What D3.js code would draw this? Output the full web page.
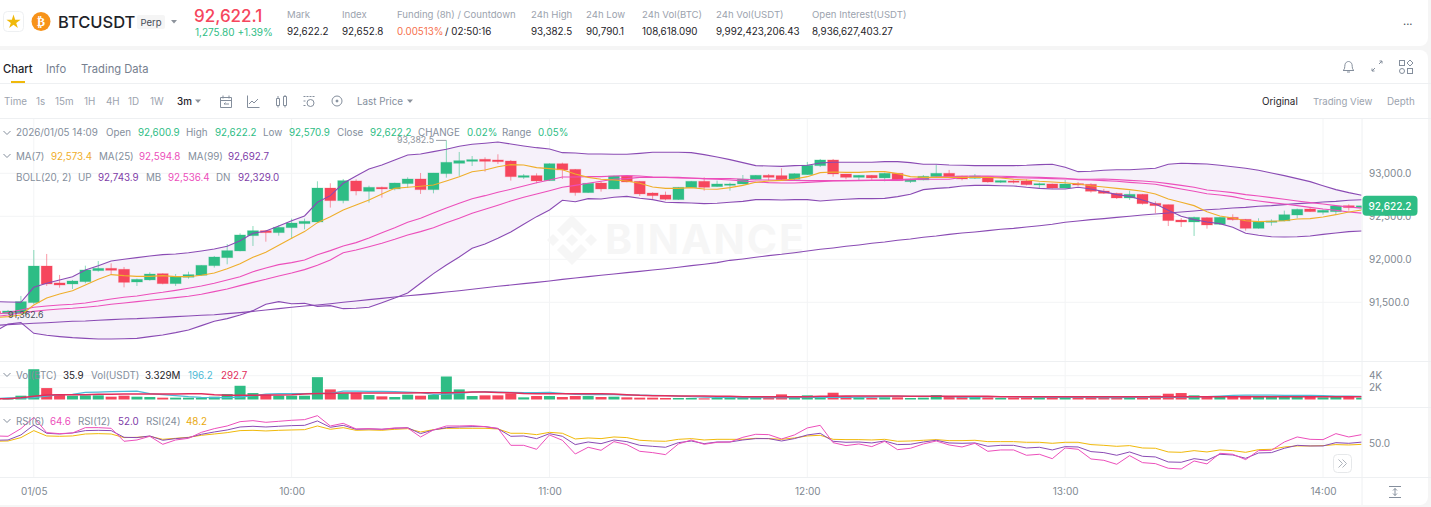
<!DOCTYPE html>
<html>
<head>
<meta charset="utf-8">
<script src="https://cdn.jsdelivr.net/npm/d3@7"></script>
<style>
  html, body { margin: 0; padding: 0; background: #f5f5f5; overflow: hidden; }
  svg { display: block; font-family: Inter, "Open Sans", sans-serif; }
</style>
</head>
<body>
<svg id="chart" width="1431" height="507"></svg>
<script>
// first entry is the 08:51 candle, it sits just off the left edge
const opens = [91395,91368,91370,91496,91922,91725,91713,91740,91868,91895,91884,91736,91760,91833,91717,91791,91814,91926,92019,92097,92275,92333,92310,92368,92415,92434,92829,92682,92911,92790,92837,92818,92880,92934,92810,92996,93116,93139,93163,93155,93143,92953,92973,92915,93112,93046,92775,92887,92818,92969,92907,92771,92748,92694,92833,92907,92845,92860,92876,92930,92977,92973,92930,92984,93089,93155,92992,92953,92977,92946,93000,92903,92922,92961,93000,92969,92942,92961,92895,92911,92911,92864,92876,92829,92880,92872,92794,92767,92713,92756,92651,92636,92457,92434,92484,92407,92488,92465,92360,92430,92446,92515,92585,92546,92554,92624,92600.9];
const highs = [91420,91411,91574,92108,92062,91818,91760,91926,91980,91953,91911,91775,91849,91837,91829,91856,91930,92039,92178,92302,92387,92341,92399,92473,92473,92907,92884,92934,92930,92856,92845,92891,92953,93004,93004,93382.5,93248,93201,93186,93221,93155,92992,93000,93116,93124,93050,92887,92903,92973,92973,92911,92779,92787,92841,92911,92953,92915,92891,92980,92980,92992,93058,93000,93132,93167,93167,92992,92980,92980,93008,93004,92938,92980,93101,93039,92973,92992,92969,92918,92922,92930,92891,92880,92922,92899,92884,92818,92775,92798,92760,92674,92636,92480,92496,92488,92492,92523,92469,92477,92465,92566,92589,92601,92581,92628,92639,92622.2];
const lows = [91368,91362.6,91365,91480,91690,91670,91655,91721,91856,91818,91674,91690,91752,91709,91690,91775,91810,91903,91942,92093,92155,92205,92275,92236,92349,92430,92601,92651,92744,92659,92717,92802,92829,92760,92767,92949,92969,93085,93019,93108,92915,92934,92884,92911,92934,92740,92771,92787,92814,92895,92736,92701,92686,92690,92829,92798,92843,92798,92872,92926,92915,92922,92922,92980,93073,92961,92930,92918,92922,92907,92911,92887,92918,92953,92942,92918,92934,92891,92887,92880,92860,92829,92822,92825,92853,92775,92760,92701,92690,92636,92535,92387,92376,92271,92356,92399,92449,92333,92356,92391,92442,92477,92550,92519,92519,92566,92570.9];
const closes = [91370,91399,91508,91922,91713,91701,91748,91876,91895,91872,91732,91767,91829,91717,91798,91822,91930,92027,92101,92283,92333,92310,92372,92422,92442,92829,92682,92915,92794,92837,92818,92887,92934,92810,93004,93128,93147,93159,93139,93135,92961,92973,92911,93112,93039,92775,92884,92818,92969,92899,92760,92740,92698,92837,92907,92837,92876,92876,92934,92977,92953,92926,92996,93093,93155,92992,92953,92977,92946,93000,92915,92930,92965,93000,92957,92934,92969,92899,92915,92895,92868,92880,92829,92876,92864,92791,92767,92713,92756,92647,92624,92450,92434,92488,92399,92488,92461,92360,92438,92446,92519,92581,92554,92570,92620,92601,92622.2];

const ma7 = [91322,91333,91353,91469,91550,91597,91635,91701,91767,91822,91810,91802,91802,91810,91798,91798,91814,91841,91891,91949,92023,92081,92163,92244,92322,92426,92496,92573,92632,92690,92760,92825,92837,92849,92864,92911,92961,93019,93039,93077,93101,93097,93066,93054,93042,92992,92953,92930,92922,92911,92884,92841,92825,92825,92833,92818,92814,92833,92860,92895,92911,92918,92934,92961,93008,93015,93011,93011,93019,93019,92996,92961,92953,92953,92953,92953,92953,92953,92946,92930,92922,92907,92899,92891,92876,92856,92841,92825,92810,92791,92760,92701,92663,92624,92554,92504,92480,92449,92438,92442,92449,92469,92473,92492,92519,92550,92573.4];
const ma25 = [91333,91353,91380,91395,91411,91422,91430,91442,91457,91477,91492,91508,91523,91539,91554,91570,91593,91624,91655,91694,91732,91767,91806,91841,91880,91930,91992,92077,92108,92147,92186,92232,92283,92322,92368,92426,92477,92535,92581,92628,92678,92721,92760,92798,92837,92860,92884,92907,92930,92938,92953,92953,92953,92946,92942,92938,92938,92938,92930,92922,92922,92918,92918,92915,92915,92915,92915,92915,92918,92918,92918,92926,92930,92930,92930,92953,92957,92961,92953,92949,92946,92942,92938,92934,92930,92930,92934,92926,92918,92911,92899,92880,92860,92837,92806,92791,92775,92752,92736,92717,92698,92678,92659,92643,92624,92608,92594.8];
const ma99 = [91232,91240,91248,91256,91263,91271,91279,91283,91291,91298,91306,91310,91318,91325,91333,91341,91349,91356,91368,91380,91395,91411,91426,91442,91457,91469,91484,91500,91515,91531,91546,91562,91577,91589,91604,91620,91635,91651,91670,91686,91701,91717,91732,91748,91767,91783,91798,91814,91829,91845,91860,91876,91891,91907,91926,91942,91961,91988,92004,92023,92043,92058,92077,92097,92116,92132,92151,92167,92186,92201,92221,92236,92256,92271,92290,92306,92318,92333,92349,92360,92376,92391,92407,92430,92446,92461,92473,92488,92500,92515,92527,92539,92550,92562,92577,92585,92597,92604,92616,92624,92636,92647,92655,92666,92674,92686,92692.7];
const bollUp = [91508,91504,91500,91674,91721,91760,91798,91876,91926,91980,92000,92019,92039,92054,92062,92077,92097,92120,92151,92217,92302,92329,92387,92449,92504,92663,92740,92884,92969,93050,93097,93155,93213,93225,93252,93279,93314,93337,93349,93364,93341,93318,93298,93283,93240,93236,93225,93225,93221,93221,93232,93244,93244,93244,93240,93217,93190,93159,93124,93089,93085,93081,93089,93093,93120,93128,93128,93128,93128,93136,93136,93124,93105,93105,93097,93093,93089,93089,93089,93089,93093,93101,93105,93070,93019,93023,93035,93042,93042,93050,93058,93105,93116,93112,93108,93093,93077,93058,93035,93004,92973,92938,92903,92856,92810,92775,92743.9];
const bollMid = [91360,91380,91411,91442,91457,91469,91477,91492,91515,91539,91558,91573,91597,91616,91639,91663,91690,91721,91760,91798,91856,91899,91938,91961,91992,92054,92101,92155,92194,92248,92310,92368,92430,92477,92539,92597,92651,92705,92740,92779,92814,92853,92891,92922,92957,92957,92961,92961,92969,92973,92969,92957,92953,92953,92946,92938,92930,92922,92911,92899,92891,92887,92887,92895,92903,92911,92915,92918,92918,92922,92926,92934,92942,92957,92961,92965,92969,92969,92965,92961,92957,92953,92949,92942,92926,92922,92915,92907,92895,92884,92872,92845,92818,92791,92763,92748,92729,92698,92678,92659,92643,92624,92604,92585,92570,92550,92536.4];
const bollDn = [91159,91248,91263,91139,91116,91101,91089,91081,91073,91073,91077,91081,91101,91120,91147,91178,91229,91279,91310,91353,91403,91477,91508,91484,91488,91453,91461,91426,91430,91442,91496,91550,91608,91721,91833,91934,92027,92128,92178,92244,92318,92407,92496,92573,92686,92670,92705,92701,92721,92732,92709,92694,92663,92659,92655,92647,92651,92663,92674,92694,92694,92690,92694,92694,92678,92690,92698,92705,92705,92709,92729,92756,92810,92825,92833,92853,92860,92860,92856,92853,92837,92825,92818,92818,92837,92818,92787,92752,92732,92690,92643,92570,92500,92461,92434,92415,92372,92302,92279,92263,92260,92263,92271,92290,92306,92322,92329];

const volumes = [150,139,639,5087,1918,862,639,695,695,473,639,473,417,306,306,306,306,473,917,2307,1084,806,639,639,639,3753,1696,1029,1140,751,528,417,806,639,751,3864,1696,584,695,695,1029,361,584,584,417,584,584,417,473,361,306,306,250,250,250,195,250,250,250,306,361,862,306,695,306,1140,584,361,306,361,361,250,306,751,528,417,584,361,250,306,306,306,306,306,306,584,417,361,361,473,639,973,1084,695,528,584,528,639,584,528,473,473,417,361,417,417,306];
const volMaFast = [139,250,250,306,584,806,862,1195,1251,1307,1362,1418,973,806,639,473,361,306,306,417,639,917,973,973,973,1029,1029,1418,1418,1362,1362,1307,1251,1140,862,917,1029,1251,1307,1251,1195,1140,1140,1195,1029,862,806,806,806,751,751,695,639,584,473,417,361,361,306,306,306,306,306,361,361,361,361,417,417,473,528,528,528,528,473,417,417,473,473,473,417,417,361,361,361,361,306,306,361,361,361,361,361,417,473,584,695,751,751,751,695,695,695,639,584,584,528,473,473,417,361];
const volMaSlow = [139,139,306,528,751,806,806,806,862,862,917,917,917,917,917,973,973,806,695,695,695,751,751,806,917,1029,1029,1084,1084,1084,1084,1084,1084,1140,1140,1140,1195,1251,1251,1195,1140,1029,973,973,973,973,973,973,917,806,695,639,639,584,584,584,528,528,473,473,473,473,473,473,528,528,584,584,584,584,584,528,528,528,528,528,528,528,473,473,473,473,473,473,473,473,473,473,473,473,473,473,473,473,473,473,473,473,473,473,473,473,473,473,473,473,473];

const rsi6 = [62.4,61.8,74.7,93.8,68,66.3,67.4,76.4,76.4,75.3,53.4,55.6,61.8,48.3,55.6,58.4,68.5,74.7,79.2,86.5,88.2,85.4,87.1,88.8,89.9,96.6,79.2,83.7,74.2,74.7,73.6,75.9,75.9,60.7,72.5,79.2,79.2,79.8,78.1,75.3,46.6,46.6,39.9,64.1,55.1,32,43.3,38.2,52.8,47.8,36.5,34.3,30.9,48.9,55.6,48.3,51.7,52.2,60.1,65.2,64.6,57.3,64.1,75.9,80.3,51.1,46.1,48.9,44.4,53.4,39.3,41.6,48.9,53.9,47.2,43.8,50,36.5,38.8,38.8,29.8,31.5,24.1,42.1,39.9,23.6,21.3,14.6,29.2,17.4,15.7,7.9,6.7,20.2,15.2,33.1,31.5,22.5,37.6,38.2,52.2,60.7,56.7,56.2,66.3,60.7,64.6];
const rsi12 = [55.1,55.6,64.1,80.9,66.9,65.7,67.4,71.4,71.9,71.4,60.1,59.6,62.4,55.1,57.9,59.6,65.2,69.1,72.5,77.5,78.7,77.5,78.7,79.8,80.3,87.7,77,80.3,73.6,74.2,73.6,75.3,76.4,66.3,72.5,76.4,77.5,78.1,78.1,74.7,61.8,62.4,57.9,66.3,61.8,47.8,52.2,49.4,55.6,52.8,46.6,44.9,43.3,51.1,53.9,49.4,52.2,52.2,55.6,57.9,57.9,53.9,57.9,64.1,66.9,53.4,51.7,52.2,50.6,53.9,47.8,48.3,52.2,55.1,50.6,50,50.6,44.9,46.6,46.6,42.1,43.3,38.8,44.4,43.8,36,34.3,29.8,35.4,28.1,27,18.5,18,24.1,21.3,31.5,30.3,24.7,33.7,34.3,41.6,46.6,45.5,45.5,51.1,50,52];
const rsi24 = [53.4,53.9,59.6,71.4,62.4,61.8,62.4,65.7,66.3,65.7,59.6,60.1,61.8,56.7,58.4,60.1,63.5,65.7,68,71.4,71.9,70.8,71.9,72.5,73,79.2,73.6,76.4,71.9,72.5,71.9,73.6,74.7,69.1,73,75.3,75.3,75.3,75.3,74.2,66.9,66.9,64.6,68.5,66.9,57.3,59,57.9,60.7,59.6,55.1,53.9,53.4,56.7,57.9,55.6,56.7,56.7,56.7,58.4,57.9,56.7,59,62.4,63.5,56.7,56.2,56.2,55.6,56.7,53.4,53.9,55.1,56.2,54.5,54.5,55.1,52.8,52.8,52.8,51.7,51.7,50,51.7,51.7,47.8,46.6,44.9,46.1,42.1,41.6,35.4,34.8,37.6,35.4,38.8,37.6,34.8,39.3,39.9,43.8,45.5,45.5,46.1,47.8,47.2,48.2];

const priceTicks = [93000, 92500, 92000, 91500];
const volTicks = [2000, 4000];
const rsiTicks = [50];
const hourTicks = ['09:00', '10:00', '11:00', '12:00', '13:00', '14:00'];
const hourLabels = ['01/05', '10:00', '11:00', '12:00', '13:00', '14:00'];

const statLabels = ['Mark', 'Index', 'Funding (8h) / Countdown', '24h High', '24h Low', '24h Vol(BTC)', '24h Vol(USDT)', 'Open Interest(USDT)'];
const statValues = ['92,622.2', '92,652.8', '', '93,382.5', '90,790.1', '108,618.090', '9,992,423,206.43', '8,936,627,403.27'];
const statLefts = [287, 342, 397, 531, 586, 642, 716, 812];
const intervals = ['1s', '15m', '1H', '4H', '1D', '1W'];
const intervalLefts = [36, 55, 84, 106, 128, 150];

const GREEN = '#2EBD85', RED = '#F6465D', GREY = '#848E9C', DARK = '#1E2329';
const PURPLE = '#7E3CA8', PINK = '#EC4FBB', ORANGE = '#EFAE2B', CYAN = '#4DBAD6', CRIMSON = '#E22D5C';
const LINE_PURPLE = '#8A4BB4';
const GRID = '#F3F4F5', LINE = '#EEF0F2';

const svg = d3.select('#chart');
const parse = d3.timeParse('%Y-%m-%d %H:%M');
const day = '2026-01-05 ';
const times = d3.timeMinute.range(parse(day + '08:51'), parse(day + '14:12'), 3);
const hours = hourTicks.map(h => parse(day + h));
const rows = times.map((t, i) => ({ t, o: opens[i], h: highs[i], l: lows[i], c: closes[i], v: volumes[i] }));

const plotRight = 1361.5;
const x = d3.scaleTime().domain([hours[0], hours[5]]).range([33.8, 1323]);
const yPrice = d3.scaleLinear().domain([91500, 93000]).range([302.3, 173.3]);
const yVol = d3.scaleLinear().domain([0, 4000]).range([399.5, 375.7]);
const yRsi = d3.scaleLinear().domain([0, 100]).range([472.95, 413.65]);

function label (g, px, py, str, fill, size, anchor, weight) {
  return g.append('text')
    .attr('x', px)
    .attr('y', py)
    .attr('dy', '0.35em')
    .attr('fill', fill || GREY)
    .attr('font-size', size || 9.8)
    .attr('text-anchor', anchor || 'start')
    .attr('font-weight', weight || 400)
    .text(str);
}

// cards behind everything
svg.append('rect').attr('x', -8).attr('y', -8).attr('width', 1436).attr('height', 54).attr('rx', 8).attr('fill', '#fff');
svg.append('rect').attr('x', -8).attr('y', 50).attr('width', 1436).attr('height', 455).attr('rx', 8).attr('fill', '#fff');

// header
const head = svg.append('g');
head.append('rect').attr('x', 3.5).attr('y', 11.5).attr('width', 20).attr('height', 20).attr('rx', 4).attr('fill', '#fff').attr('stroke', '#EEF0F2');
head.append('path').attr('transform', 'translate(13.5,22)').attr('d', d3.symbol(d3.symbolStar, 62)()).attr('fill', '#F0B90B');
head.append('circle').attr('cx', 41).attr('cy', 21.5).attr('r', 9.5).attr('fill', '#F7931A');
label(head, 41, 22, '₿', '#fff', 12, 'middle', 700).attr('font-family', 'DejaVu Sans');
label(head, 58, 22, 'BTCUSDT', DARK, 16.5, 'start', 500);
head.append('rect').attr('x', 137).attr('y', 15).attr('width', 28).attr('height', 14).attr('rx', 2).attr('fill', '#F5F5F5');
label(head, 151, 22.5, 'Perp', '#474D57', 9.5, 'middle');
head.append('path').attr('d', 'M171 20h6l-3 3.5z').attr('fill', '#8D939C');
label(head, 194, 16, '92,622.1', RED, 17, 'start', 500);
label(head, 195, 32, '1,275.80 +1.39%', GREEN, 10);
statLabels.forEach((s, i) => {
  label(head, statLefts[i], 14.5, s, '#9CA3AE', 9.6);
  label(head, statLefts[i], 31.5, statValues[i], DARK, 9.8);
});
label(head, 397, 31.5, '0.00513%', '#F6714D', 9.8);
label(head, 445, 31.5, '/ 02:50:16', DARK, 9.8);
label(head, 1403, 21, '...', '#474D57', 11);

// tabs and toolbar
const bar = svg.append('g');
label(bar, 3, 69, 'Chart', DARK, 11.2, 'start', 500);
label(bar, 46, 69, 'Info', '#76808F', 11.2);
label(bar, 81, 69, 'Trading Data', '#76808F', 11.2);
bar.append('rect').attr('x', 11).attr('y', 81).attr('width', 14).attr('height', 2).attr('fill', '#F0B90B');
bar.append('line').attr('x1', 0).attr('x2', 1431).attr('y1', 83.5).attr('y2', 83.5).attr('stroke', LINE);
bar.append('line').attr('x1', 0).attr('x2', 1431).attr('y1', 118.5).attr('y2', 118.5).attr('stroke', LINE);
label(bar, 4, 101.5, 'Time', '#9CA3AE', 9.8);
intervals.forEach((s, i) => label(bar, intervalLefts[i], 101.5, s, '#9CA3AE', 9.8));
label(bar, 177, 101.5, '3m', DARK, 9.8, 'start', 500);
bar.append('path').attr('d', 'M195 99.5h6l-3 3.5z M407 99.5h6l-3 3.5z').attr('fill', '#8D939C');
label(bar, 357, 101.5, 'Last Price', '#848E9C', 9.8);
label(bar, 1262, 101.5, 'Original', DARK, 9.8);
label(bar, 1313, 101.5, 'Trading View', '#9CA3AE', 9.6);
label(bar, 1387, 101.5, 'Depth', '#9CA3AE', 9.8);

const icons = bar.append('g').attr('fill', 'none').attr('stroke', '#848E9C').attr('stroke-width', 1);
icons.append('path').attr('d', 'M220.5 97.5h11v10h-11z M220.5 100.5h11 M223 95.5v3 M229 95.5v3 M229 104h-5l1.5-1.5');
icons.append('path').attr('d', 'M247.5 95.5v12h12 M249 104l3-3 2 2 4-4');
icons.append('path').attr('d', 'M276.5 98.5h3v7h-3z M283.5 96.5h3v9h-3z M278 96v2.5 M278 105.5v2 M285 95v1.5 M285 105.5v2');
icons.append('path').attr('d', 'M303.5 96.5h11 M303.5 105.5h2 M303.5 101h2').attr('stroke-dasharray', '2 1');
icons.append('circle').attr('cx', 310.5).attr('cy', 103).attr('r', 3.5);
icons.append('circle').attr('cx', 337).attr('cy', 101).attr('r', 5);
icons.append('circle').attr('cx', 337).attr('cy', 101).attr('r', 1).attr('fill', '#848E9C');
icons.append('path').attr('d', 'M1343 70.5c2-1 1.5-3 2-6 .5-2 2-3 3.5-3s3 1 3.5 3c.5 3 0 5 2 6z M1347 72h3');
icons.append('path').attr('d', 'M1372 71l3-3 M1372 71h2.5 M1372 71v-2.5 M1382 61l-3 3 M1382 61h-2.5 M1382 61v2.5');
icons.append('rect').attr('x', 1399.5).attr('y', 60.5).attr('width', 5).attr('height', 5);
icons.append('rect').attr('x', 1407.5).attr('y', 68.5).attr('width', 5).attr('height', 5);
icons.append('circle').attr('cx', 1402).attr('cy', 71).attr('r', 2.5);
icons.append('path').attr('d', 'M1410 60l3 3-3 3-3-3z');
icons.append('path').attr('d', 'M1389 486.5h12 M1389 497.5h12 M1395 488.5v7 M1393 490.5l2-2 2 2 M1393 493.5l2 2 2-2');

// grid
const grid = svg.append('g').attr('stroke', GRID);
grid.selectAll('.v').data(hours).enter().append('line')
  .attr('x1', d => x(d)).attr('x2', d => x(d)).attr('y1', 119).attr('y2', 477);
grid.selectAll('.p').data(priceTicks).enter().append('line')
  .attr('x1', 0).attr('x2', plotRight).attr('y1', d => yPrice(d)).attr('y2', d => yPrice(d));
grid.selectAll('.q').data(volTicks).enter().append('line')
  .attr('x1', 0).attr('x2', plotRight).attr('y1', d => yVol(d)).attr('y2', d => yVol(d));
grid.selectAll('.r').data(rsiTicks).enter().append('line')
  .attr('x1', 0).attr('x2', plotRight).attr('y1', d => yRsi(d)).attr('y2', d => yRsi(d));

// watermark
const mark = svg.append('g').attr('fill', '#F6F6F6');
mark.append('path').attr('transform', 'translate(572,240)')
  .attr('d', 'M0-25 L15-10 L9-4 L0-13 L-9-4 L-15-10Z M-25 0 L-19-6 L-13 0 L-19 6Z M25 0 L19-6 L13 0 L19 6Z M0-6 L6 0 L0 6 L-6 0Z M0 25 L15 10 L9 4 L0 13 L-9 4 L-15 10Z');
label(mark, 605, 240, 'BINANCE', '#F6F6F6', 41, 'start', 700).attr('letter-spacing', 2);

// pane borders
const borders = svg.append('g').attr('stroke', LINE);
[361.5, 407.5, 477.5].forEach(v => borders.append('line').attr('x1', 0).attr('x2', 1431).attr('y1', v).attr('y2', v));
borders.append('line').attr('x1', plotRight + 0.5).attr('x2', plotRight + 0.5).attr('y1', 119).attr('y2', 505);

const defs = svg.append('defs');
function clip (id, top, bottom) {
  defs.append('clipPath').attr('id', id).append('rect')
    .attr('x', 0).attr('y', top).attr('width', plotRight).attr('height', bottom - top);
  return svg.append('g').attr('clip-path', 'url(#' + id + ')');
}

// price pane
const pricePane = clip('price-clip', 119, 361);
pricePane.append('path')
  .attr('d', d3.area().x((d, i) => x(times[i])).y0((d, i) => yPrice(bollDn[i])).y1(d => yPrice(d))(bollUp))
  .attr('fill', '#F6F1FA');

const candle = pricePane.selectAll('.candle').data(rows).enter().append('g').attr('class', 'candle');
candle.append('line')
  .attr('x1', d => x(d.t)).attr('x2', d => x(d.t))
  .attr('y1', d => yPrice(d.h)).attr('y2', d => yPrice(d.l))
  .attr('stroke', d => d.c >= d.o ? GREEN : RED)
  .attr('stroke-opacity', 0.55);
candle.append('rect')
  .attr('x', d => x(d.t) - 5.5)
  .attr('width', 11)
  .attr('y', d => yPrice(Math.max(d.o, d.c)))
  .attr('height', d => Math.max(1, Math.abs(yPrice(d.o) - yPrice(d.c))))
  .attr('fill', d => d.c >= d.o ? GREEN : RED)
  .attr('stroke', d => d.c >= d.o ? GREEN : RED)
  .attr('stroke-opacity', 0.25);

const priceLine = d3.line().x((d, i) => x(times[i])).y(d => yPrice(d));
[[ma99, LINE_PURPLE], [bollUp, LINE_PURPLE], [bollDn, LINE_PURPLE], [ma25, PINK], [bollMid, PINK], [ma7, ORANGE]].forEach(s => {
  pricePane.append('path').attr('d', priceLine(s[0])).attr('fill', 'none').attr('stroke', s[1]).attr('stroke-width', 1.1);
});

// volume pane
const volPane = clip('vol-clip', 362, 400);
volPane.selectAll('rect').data(rows).enter().append('rect')
  .attr('x', d => x(d.t) - 5.5)
  .attr('width', 11)
  .attr('y', d => yVol(d.v))
  .attr('height', d => yVol(0) - yVol(d.v))
  .attr('fill', d => d.c >= d.o ? GREEN : RED);
const volLine = d3.line().x((d, i) => x(times[i])).y(d => yVol(d));
volPane.append('path').attr('d', volLine(volMaFast)).attr('fill', 'none').attr('stroke', CYAN).attr('stroke-width', 1.3);
volPane.append('path').attr('d', volLine(volMaSlow)).attr('fill', 'none').attr('stroke', CRIMSON).attr('stroke-width', 1.5);

// rsi pane
const rsiPane = clip('rsi-clip', 408, 477);
const rsiLine = d3.line().x((d, i) => x(times[i])).y(d => yRsi(d));
[[rsi24, '#F0B90B'], [rsi12, LINE_PURPLE], [rsi6, PINK]].forEach(s => {
  rsiPane.append('path').attr('d', rsiLine(s[0])).attr('fill', 'none').attr('stroke', s[1]).attr('stroke-width', 1);
});

// axes
function styleAxis (g) {
  g.select('.domain').remove();
  g.selectAll('.tick line').remove();
  g.selectAll('text').attr('fill', '#808891').attr('font-size', 10).attr('font-family', 'Inter, sans-serif');
}
svg.append('g').attr('transform', 'translate(1369,0)')
  .call(d3.axisRight(yPrice).tickValues(priceTicks).tickSize(0).tickPadding(0).tickFormat(d3.format(',.1f')))
  .call(styleAxis);
svg.append('g').attr('transform', 'translate(1369,0)')
  .call(d3.axisRight(yVol).tickValues(volTicks).tickSize(0).tickPadding(0).tickFormat(d => (d / 1000) + 'K'))
  .call(styleAxis);
svg.append('g').attr('transform', 'translate(1369,0)')
  .call(d3.axisRight(yRsi).tickValues(rsiTicks).tickSize(0).tickPadding(0).tickFormat(d3.format('.1f')))
  .call(styleAxis);
svg.append('g').attr('transform', 'translate(0,487.5)')
  .call(d3.axisBottom(x).tickValues(hours).tickSize(0).tickPadding(0).tickFormat((d, i) => hourLabels[i]))
  .call(styleAxis);

// last price tag
const last = closes[closes.length - 1];
svg.append('rect').attr('x', 1362.5).attr('y', yPrice(last) - 10).attr('width', 55).attr('height', 20).attr('rx', 4).attr('fill', GREEN);
label(svg, 1390, yPrice(last) + 0.5, d3.format(',.1f')(last), '#fff', 10, 'middle', 500);

// high and low markers
const hi = d3.greatest(rows, d => d.h);
const lo = d3.least(rows, d => d.l);
svg.append('line').attr('x1', 436).attr('x2', x(hi.t)).attr('y1', yPrice(hi.h)).attr('y2', yPrice(hi.h)).attr('stroke', '#9AA0A8');
label(svg, 434, yPrice(hi.h), d3.format(',.1f')(hi.h), '#8D939C', 8.8, 'end');
label(svg, 8, yPrice(lo.l) + 1, d3.format(',.1f')(lo.l), '#474D57', 8.8);

// legends
function legend (py, parts) {
  parts.forEach(p => label(svg, p[0], py, p[1], p[2] || GREY, 9.8));
}
legend(133, [[16, '2026/01/05 14:09'], [106, 'Open'], [138, '92,600.9', GREEN], [186, 'High'], [215, '92,622.2', GREEN], [263, 'Low'], [289, '92,570.9', GREEN], [337, 'Close'], [370, '92,622.2', GREEN], [418, 'CHANGE'], [467, '0.02%', GREEN], [502, 'Range'], [538, '0.05%', GREEN]]);
legend(156.5, [[16, 'MA(7)'], [51, '92,573.4', ORANGE], [99, 'MA(25)'], [139, '92,594.8', PINK], [188, 'MA(99)'], [228, '92,692.7', PURPLE]]);
legend(178, [[16, 'BOLL(20, 2)'], [78, 'UP'], [98, '92,743.9', PURPLE], [146, 'MB'], [168, '92,536.4', PINK], [216, 'DN'], [238, '92,329.0', PURPLE]]);
legend(375.5, [[16, 'Vol(BTC)'], [63, '35.9', DARK], [91, 'Vol(USDT)'], [145, '3.329M', DARK], [188, '196.2', CYAN], [221, '292.7', CRIMSON]]);
legend(421.5, [[16, 'RSI(6)'], [50, '64.6', PINK], [78, 'RSI(12)'], [118, '52.0', PURPLE], [146, 'RSI(24)'], [186, '48.2', '#E9A90E']]);
const chevrons = svg.append('g').attr('fill', 'none').attr('stroke', '#848E9C');
[133, 156, 375, 421].forEach(v => chevrons.append('path').attr('d', 'M3.5 ' + (v - 2) + 'l3.5 3.5 3.5-3.5'));

// scroll button
svg.append('rect').attr('x', 1333.5).attr('y', 454.5).attr('width', 18).attr('height', 18).attr('rx', 4).attr('fill', '#fff').attr('stroke', '#E6E8EA');
svg.append('path').attr('d', 'M1338.5 459.5l4 4-4 4 M1342.5 459.5l4 4-4 4').attr('fill', 'none').attr('stroke', '#AEB4BC');
</script>
</body>
</html>
